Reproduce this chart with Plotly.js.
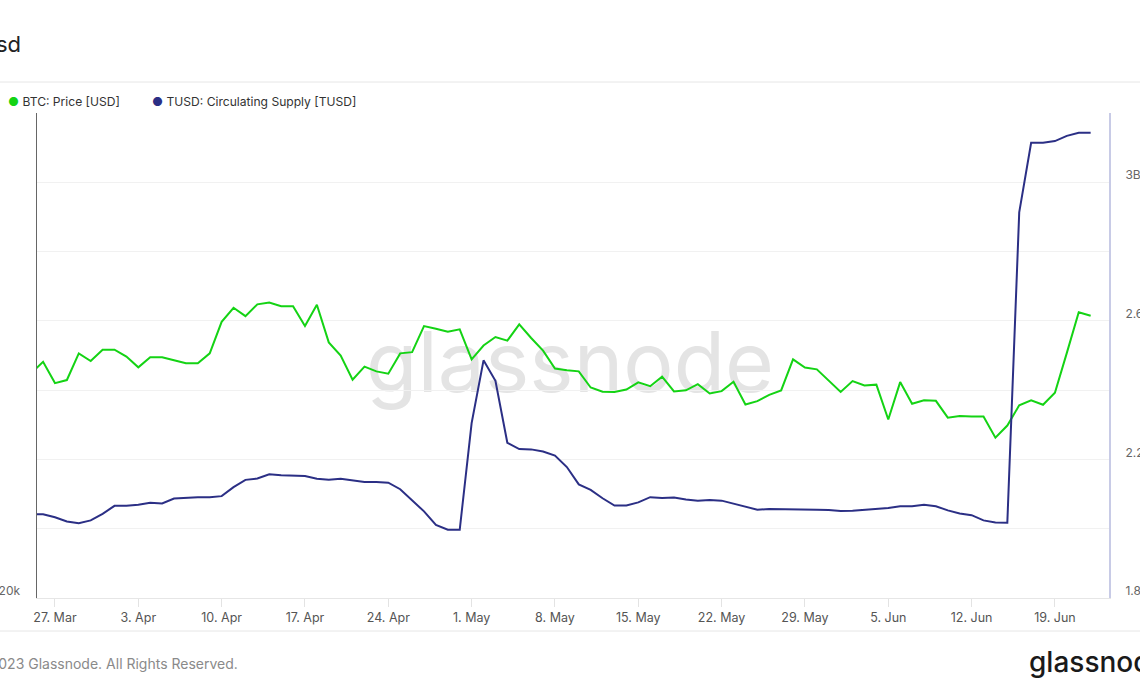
<!DOCTYPE html>
<html><head><meta charset="utf-8">
<script src="https://cdn.plot.ly/plotly-3.0.1.min.js"></script>
<style>html,body{margin:0;padding:0;background:#fff;}#chart{width:1140px;height:694px;}</style>
</head><body><div id="chart"></div>
<script>
// Daily data, 25 Mar 2023 .. 22 Jun 2023
const firstDay = [2023, 2, 25];
const btcPrice = [
  27580, 28030, 27190, 27310, 28370, 28060, 28520,
  28520, 28240, 27810, 28210, 28210, 28090, 27970, 27970, 28370, 29680,
  30280, 29920, 30430, 30510, 30350, 30350, 29500, 30410, 28820, 28280,
  27320, 27840, 27650, 27560, 28370, 28420, 29500, 29390, 29260, 29360,
  28130, 28690, 29040, 28890, 29570, 29000, 28480, 27760, 27690, 27650,
  27020, 26860, 26850, 26940, 27220, 27070, 27440, 26870, 26910, 27150,
  26790, 26880, 27240, 26370, 26500, 26740, 26910, 28130, 27800, 27730, 27270,
  26850, 27270, 27100, 27130, 25810, 27230, 26400, 26530, 26510, 25880,
  25940, 25920, 25920, 25150, 25590, 26340, 26530, 26360, 26820, 28390, 30090, 29940
];
// TUSD circulating supply, billions
const tusdSupply = [
  2.042, 2.042, 2.033, 2.021, 2.016, 2.024, 2.043,
  2.066, 2.066, 2.069, 2.075, 2.073, 2.087, 2.090, 2.091, 2.091, 2.094,
  2.120, 2.141, 2.145, 2.157, 2.154, 2.154, 2.152, 2.144, 2.141, 2.144,
  2.140, 2.135, 2.135, 2.133, 2.114, 2.081, 2.050, 2.011, 1.997, 1.997,
  2.305, 2.486, 2.427, 2.248, 2.230, 2.229, 2.223, 2.211, 2.178, 2.128,
  2.112, 2.088, 2.067, 2.067, 2.076, 2.091, 2.089, 2.090, 2.084, 2.081,
  2.083, 2.081, 2.073, 2.064, 2.055, 2.057, 2.057, 2.056, 2.055, 2.055, 2.054,
  2.051, 2.052, 2.054, 2.058, 2.060, 2.065, 2.065, 2.069, 2.065, 2.053,
  2.044, 2.039, 2.024, 2.018, 2.017, 2.913, 3.114, 3.114, 3.119, 3.134, 3.143, 3.143
];
const leftTickVals = [20000];
const leftTickText = ['20k'];
const rightTickVals = [1.8, 2.0, 2.2, 2.4, 2.6, 2.8, 3.0, 3.2];
const rightTickText = ['1.8B', '', '2.2B', '', '2.6B', '', '3B', ''];
const seriesNames = ['BTC: Price [USD]', 'TUSD: Circulating Supply [TUSD]'];

const dates = btcPrice.map((_, i) => new Date(Date.UTC(firstDay[0], firstDay[1], firstDay[2] + i)).toISOString().slice(0, 10));

const W = 1140, H = 694, M = {l: 37, r: 31, t: 113, b: 96};
const pw = W - M.l - M.r, ph = H - M.t - M.b;
const px = x => (x - M.l) / pw;
const py = y => (H - M.b - y) / ph;

const GREEN = '#14d314', NAVY = '#2b2f85';
const FONT = 'Inter, "Noto Sans", sans-serif';

const traces = [
  {x: dates, y: btcPrice, name: seriesNames[0], type: 'scatter', mode: 'lines',
   line: {color: GREEN, width: 2}, yaxis: 'y'},
  {x: dates, y: tusdSupply, name: seriesNames[1], type: 'scatter', mode: 'lines',
   line: {color: NAVY, width: 2}, yaxis: 'y2'}
];

const layout = {
  width: W, height: H, autosize: false,
  margin: M,
  paper_bgcolor: '#ffffff', plot_bgcolor: 'rgba(0,0,0,0)',
  showlegend: false,
  font: {family: FONT, color: '#555', size: 12},
  xaxis: {
    type: 'date',
    range: ['2023-03-25 11:45', '2023-06-23 13:00'],
    tick0: '2023-03-27', dtick: 7 * 86400000,
    tickformat: '%-d. %b',
    ticks: 'outside', ticklen: 8, tickcolor: '#e3e3e3',
    showgrid: false, zeroline: false,
    showline: true, linecolor: '#e6e6e6', linewidth: 1,
    tickfont: {size: 12.5, color: '#555'}
  },
  yaxis: {
    type: 'log',
    range: [Math.log10(20000), Math.log10(40000)],
    tickvals: leftTickVals, ticktext: leftTickText,
    showgrid: false, zeroline: false,
    showline: true, linecolor: '#666', linewidth: 1.5,
    ticks: '', ticklabelstandoff: 13, ticklabelshift: -7,
    tickfont: {size: 12, color: '#666'}
  },
  yaxis2: {
    overlaying: 'y', side: 'right',
    range: [1.8, 3.2],
    tickvals: rightTickVals, ticktext: rightTickText,
    showgrid: true, gridcolor: '#f1f1f1', gridwidth: 1,
    zeroline: false,
    showline: true, linecolor: '#c8cbe6', linewidth: 2,
    ticks: '', ticklabelstandoff: 12, ticklabelshift: -7,
    tickfont: {size: 12, color: '#666'}
  },
  shapes: [
    {type: 'line', xref: 'paper', yref: 'paper', x0: px(0), x1: px(W), y0: py(82), y1: py(82),
     line: {color: '#e6e6e6', width: 1}},
    {type: 'line', xref: 'paper', yref: 'paper', x0: px(0), x1: px(W), y0: py(631), y1: py(631),
     line: {color: '#e6e6e6', width: 1}},
    {type: 'rect', xref: 'paper', yref: 'paper', layer: 'below',
     x0: px(360), x1: px(780), y0: py(403), y1: py(313),
     line: {width: 0}, fillcolor: 'rgba(0,0,0,0)',
     label: {text: 'glassnode', textposition: 'middle center',
             font: {size: 84, color: '#e4e4e4', family: FONT}}}
  ],
  annotations: [
    {text: 'sd', xref: 'paper', yref: 'paper', x: px(23), y: py(44), xanchor: 'right', yanchor: 'middle',
     showarrow: false, font: {size: 22, color: '#222', family: FONT}},
    {text: '<span style="color:' + GREEN + '">●</span> ' + seriesNames[0], xref: 'paper', yref: 'paper',
     x: px(6), y: py(101), xanchor: 'left', yanchor: 'middle', showarrow: false,
     font: {size: 12.1, color: '#333', family: FONT}},
    {text: '<span style="color:' + NAVY + '">●</span> ' + seriesNames[1], xref: 'paper', yref: 'paper',
     x: px(150), y: py(101), xanchor: 'left', yanchor: 'middle', showarrow: false,
     font: {size: 12.1, color: '#333', family: FONT}},
    {text: '© 2023 Glassnode. All Rights Reserved.', xref: 'paper', yref: 'paper',
     x: px(240), y: py(663), xanchor: 'right', yanchor: 'middle', showarrow: false,
     font: {size: 14, color: '#8a8a8a', family: FONT}},
    {text: '<span style="font-weight:500">glassnode</span>', xref: 'paper', yref: 'paper',
     x: px(1027), y: py(662), xanchor: 'left', yanchor: 'middle', showarrow: false,
     font: {size: 28, color: '#1a1a1a', family: FONT}}
  ]
};

Plotly.newPlot('chart', traces, layout, {displayModeBar: false, staticPlot: true});
</script>
</body></html>
